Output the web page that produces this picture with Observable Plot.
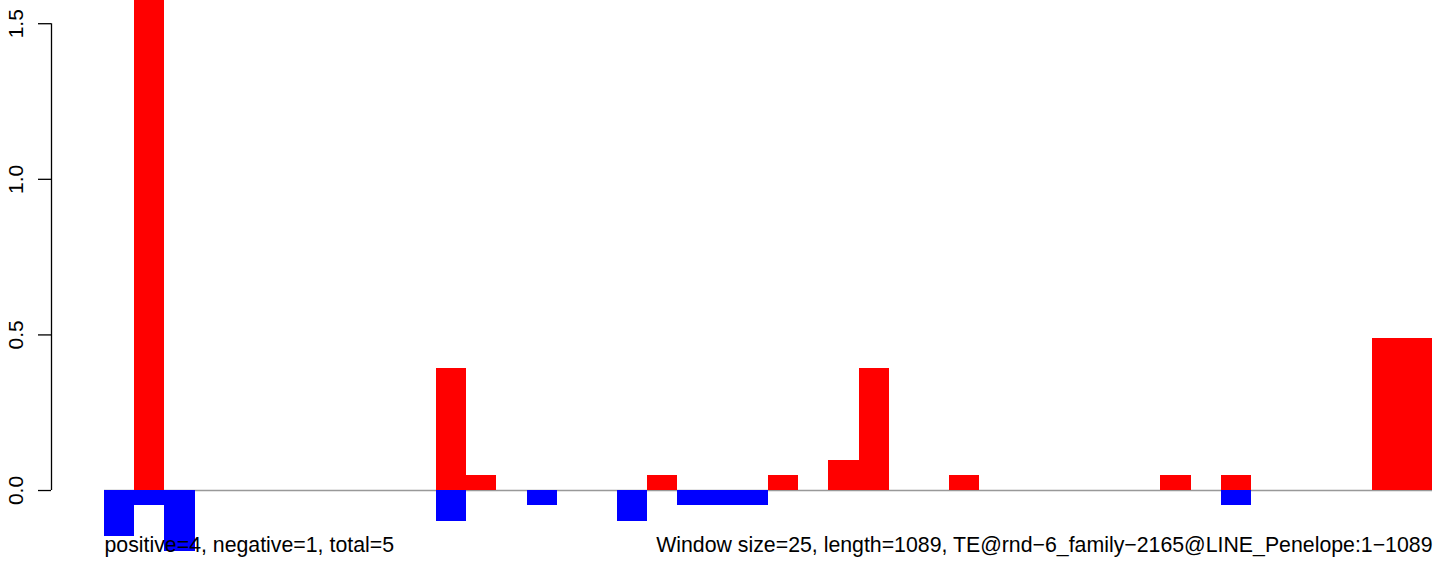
<!DOCTYPE html>
<html>
<head>
<meta charset="utf-8">
<script src="https://cdn.jsdelivr.net/npm/d3@7"></script>
<script src="https://cdn.jsdelivr.net/npm/@observablehq/plot@0.6"></script>
<style>
  html, body { margin: 0; padding: 0; background: #ffffff; }
  #chart svg { display: block; }
</style>
</head>
<body>
<div id="chart"></div>
<script>
// window index (window size = 25 bp, length = 1089 -> 44 windows)
const windowIndex = [0,1,2,3,4,5,6,7,8,9,10,11,12,13,14,15,16,17,18,19,20,21,
                     22,23,24,25,26,27,28,29,30,31,32,33,34,35,36,37,38,39,40,41,42,43];
// positive strand values (red)
const positiveValues = [0, 1.60, 0, 0, 0, 0, 0, 0, 0, 0, 0, 0.392, 0.049, 0, 0, 0, 0, 0, 0.049, 0, 0, 0,
                        0.049, 0, 0.098, 0.392, 0, 0, 0.049, 0, 0, 0, 0, 0, 0, 0.049, 0, 0.049, 0, 0, 0, 0, 0.49, 0.49];
// negative strand values (blue)
const negativeValues = [-0.147, -0.049, -0.196, 0, 0, 0, 0, 0, 0, 0, 0, -0.098, 0, 0, -0.049, 0, 0, -0.098, 0, -0.049, -0.049, -0.049,
                        0, 0, 0, 0, 0, 0, 0, 0, 0, 0, 0, 0, 0, 0, 0, -0.049, 0, 0, 0, 0, 0, 0];
const yTicks = [0, 0.5, 1.0, 1.5];
const captionLeft = ["positive=4, negative=1, total=5"];
const captionRight = ["Window size=25, length=1089, TE@rnd\u22126_family\u22122165@LINE_Penelope:1\u22121089"];

const pos = windowIndex.map((i, k) => ({i, v: positiveValues[k]})).filter(d => d.v !== 0);
const neg = windowIndex.map((i, k) => ({i, v: negativeValues[k]})).filter(d => d.v !== 0);

const chart = Plot.plot({
  width: 1444,
  height: 563,
  marginLeft: 104,
  marginRight: 12,
  marginTop: 0,
  marginBottom: 0,
  style: {fontFamily: "'Liberation Sans', Arial, Helvetica, sans-serif", fontSize: "21px", color: "#000", background: "#fff"},
  x: {domain: [0, 44], axis: null},
  y: {domain: [-0.2345, 1.5746], axis: null},
  marks: [
    Plot.ruleY([0], {x1: 0, x2: 44, stroke: "#999999", strokeWidth: 1.6}),
    Plot.rect(pos, {x1: "i", x2: d => d.i + 1, y1: 0, y2: "v", fill: "#ff0000", inset: 0, clip: true, shapeRendering: "crispEdges"}),
    Plot.rect(neg, {x1: "i", x2: d => d.i + 1, y1: 0, y2: "v", fill: "#0000ff", inset: 0, clip: true, shapeRendering: "crispEdges"}),
    Plot.ruleX([0], {y1: 0, y2: 1.5, dx: -53, stroke: "#000", strokeWidth: 1.3}),
    Plot.axisY({ticks: yTicks, tickSize: 13, tickFormat: ".1f", tickRotate: -90, tickPadding: 16,
                dx: -53, label: null, fontSize: 21, strokeWidth: 1.3, strokeOpacity: 1}),
    Plot.text(captionLeft, {frameAnchor: "bottom-left", textAnchor: "start", lineAnchor: "bottom", dy: -11.5, fontSize: 21.3, fill: "#000"}),
    Plot.text(captionRight, {frameAnchor: "bottom-right", textAnchor: "end", lineAnchor: "bottom", dy: -11.5, fontSize: 21.3, fill: "#000"})
  ]
});
document.getElementById("chart").appendChild(chart);
</script>
</body>
</html>
